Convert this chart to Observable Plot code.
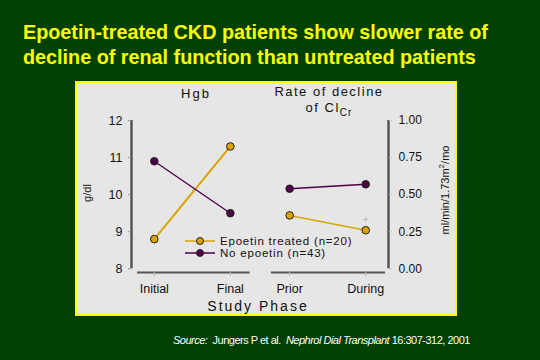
<!DOCTYPE html>
<html>
<head>
<meta charset="utf-8">
<script src="https://cdn.jsdelivr.net/npm/d3@7"></script>
<script src="https://cdn.jsdelivr.net/npm/@observablehq/plot@0.6"></script>
<style>
  html, body { margin: 0; padding: 0; background: #004000; }
  #page { position: relative; width: 540px; height: 360px; background: #004000; overflow: hidden; font-family: "Liberation Sans", Arial, sans-serif; }
  #title { position: absolute; left: 23px; top: 20px; color: #ffff00; font-weight: bold; font-size: 19.8px; line-height: 25px; white-space: nowrap; }
  #panel { position: absolute; left: 75px; top: 81px; width: 382px; height: 235px; box-sizing: border-box; border: 2px solid #ffff00; background: #e6e6e6; }
  #chart { position: absolute; left: 0; top: 0; }
  .lab { position: absolute; color: #111; font-size: 13px; letter-spacing: 1.5px; white-space: nowrap; transform: translate(-50%, -50%); text-align: center; line-height: 16px; }
  .ylab { position: absolute; color: #111; font-size: 11px; white-space: nowrap; transform: translate(-50%, -50%) rotate(-90deg); }
  #legend { position: absolute; left: 0; top: 0; }
  #caption { position: absolute; left: 173px; top: 334px; color: #ffffff; font-size: 11px; letter-spacing: -0.5px; white-space: nowrap; }
</style>
</head>
<body>
<div id="page">
  <div id="title">Epoetin-treated CKD patients show slower rate of<br>decline of renal function than untreated patients</div>
  <div id="panel"><div id="chart"></div></div>
  <div id="caption"><i>Source:</i>&nbsp; Jungers P et al.&nbsp; <i>Nephrol Dial Transplant</i> 16:307-312, 2001</div>
</div>
<script>
// ---- data ----
const phases = ["Initial", "Final", "Prior", "During"];
const series = ["Epoetin treated (n=20)", "No epoetin (n=43)"];
const hgbEpoetin = [8.8, 11.3];      // g/dl, Initial / Final
const hgbNone = [10.9, 9.5];
const rateEpoetin = [0.36, 0.26];    // ml/min/1.73m2/mo, Prior / During
const rateNone = [0.54, 0.57];
const rateMarkerValue = [0.33];      // "+" marker at During
const hgbTicks = [8, 9, 10, 11, 12];
const rateTicks = [0, 0.25, 0.5, 0.75, 1];

const colors = ["#d9a400", "#4d0048"];

// position of each phase on a continuous x (gap between the two groups is narrower)
const pos = i => i + (i >= 2 ? -0.22 : 0);
const rateToY = r => 8 + r * 4;

const rows = [];
hgbEpoetin.forEach((v, i) => rows.push({phase: phases[i], x: pos(i), y: v, s: series[0], g: "hgb"}));
hgbNone.forEach((v, i) => rows.push({phase: phases[i], x: pos(i), y: v, s: series[1], g: "hgb"}));
rateEpoetin.forEach((v, i) => rows.push({phase: phases[i + 2], x: pos(i + 2), y: rateToY(v), s: series[0], g: "rate"}));
rateNone.forEach((v, i) => rows.push({phase: phases[i + 2], x: pos(i + 2), y: rateToY(v), s: series[1], g: "rate"}));

const groups = [
  {x1: pos(0) - 0.22, x2: pos(1) + 0.26},
  {x1: pos(2) - 0.24, x2: pos(3) + 0.26}
];

const xMin = pos(0) - 0.3, xMax = pos(3) + 0.3;

const chart = Plot.plot({
  width: 378,
  height: 231,
  marginLeft: 54,
  marginRight: 67,
  marginTop: 37,
  marginBottom: 42,
  style: {background: "transparent", fontFamily: "Liberation Sans, Arial, sans-serif"},
  x: {type: "linear", domain: [xMin, xMax]},
  y: {domain: [7.9, 12]},
  color: {domain: series, range: colors},
  marks: [
    // x axis segments
    Plot.ruleY(groups, {y: 7.9, x1: "x1", x2: "x2", stroke: "#555", strokeWidth: 2}),
    // left and right axis lines
    Plot.ruleX([xMin], {y1: 8, y2: 12, stroke: "#555", strokeWidth: 2.5}),
    Plot.ruleX([xMax], {y1: 8, y2: 12, stroke: "#555", strokeWidth: 2.5}),
    Plot.axisY({anchor: "left", ticks: hgbTicks, tickSize: 3, tickPadding: 6, stroke: "#999", fontSize: 12.5, fill: "#111", label: null, tickFormat: d => String(d), style: {letterSpacing: "2px"}}),
    Plot.axisY({anchor: "right", ticks: rateTicks.map(rateToY), tickSize: 3, tickPadding: 7, stroke: "#ccc", fontSize: 12, fill: "#111", label: null, tickFormat: d => ((d - 8) / 4).toFixed(2), style: {letterSpacing: "1px"}}),
    Plot.axisX({anchor: "bottom", ticks: phases.map((p, i) => pos(i)), tickSize: 4, tickPadding: 8, stroke: "#bbb", fontSize: 12.5, fill: "#111", label: null, tickFormat: d => phases[[0,1,2,3].find(i => Math.abs(pos(i) - d) < 1e-6)], style: {letterSpacing: "1.6px"}}),
    // lines
    Plot.line(rows.filter(d => d.g === "hgb" && d.s === series[0]), {x: "x", y: "y", stroke: colors[0], strokeWidth: 2}),
    Plot.line(rows.filter(d => d.g === "hgb" && d.s === series[1]), {x: "x", y: "y", stroke: colors[1], strokeWidth: 1.3}),
    Plot.line(rows.filter(d => d.g === "rate" && d.s === series[0]), {x: "x", y: "y", stroke: colors[0], strokeWidth: 1.5}),
    Plot.line(rows.filter(d => d.g === "rate" && d.s === series[1]), {x: "x", y: "y", stroke: colors[1], strokeWidth: 1.5}),
    // significance marker
    Plot.text(rateMarkerValue, {x: pos(3), y: d => rateToY(d), text: () => "+", fill: "#b8b8b8", fontSize: 11}),
    // markers
    Plot.dot(rows, {x: "x", y: "y", fill: "s", r: 3.8, stroke: "#222", strokeWidth: 1})
  ]
});
document.getElementById("chart").appendChild(chart);

// text labels inside page (absolute, page coordinates)
const page = document.getElementById("page");
function addLabel(html, x, y, cls, extraStyle) {
  const el = document.createElement("div");
  el.className = cls;
  el.innerHTML = html;
  el.style.left = x + "px";
  el.style.top = y + "px";
  if (extraStyle) Object.assign(el.style, extraStyle);
  page.appendChild(el);
}
addLabel("Hgb", 196, 94, "lab", {letterSpacing: "2px"});
addLabel("Rate of decline<br>of Cl<sub style='font-size:10px;vertical-align:-4px;letter-spacing:1px'>Cr</sub>", 329, 102, "lab");
addLabel("Study Phase", 258, 306, "lab", {fontSize: "14px", letterSpacing: "2px"});
addLabel("g/dl", 87, 193, "ylab");
addLabel("ml/min/1.73m<sup style='font-size:8px'>2</sup>/mo", 444, 190, "ylab");

// legend
const legendSvg = d3.select(page).append("svg")
  .attr("id", "legend").attr("width", 540).attr("height", 360)
  .style("position", "absolute").style("left", "0px").style("top", "0px");
series.forEach((s, i) => {
  const y = 241 + i * 12;
  legendSvg.append("line").attr("x1", 185).attr("x2", 215).attr("y1", y).attr("y2", y).attr("stroke", colors[i]).attr("stroke-width", 1.5);
  legendSvg.append("circle").attr("cx", 200).attr("cy", y).attr("r", 3.5).attr("fill", colors[i]).attr("stroke", "#222");
  legendSvg.append("text").attr("x", 220).attr("y", y + 4).attr("font-size", 11.5).attr("letter-spacing", "0.8px").attr("fill", "#111")
    .attr("font-family", "Liberation Sans, Arial, sans-serif").text(s);
});
</script>
</body>
</html>
